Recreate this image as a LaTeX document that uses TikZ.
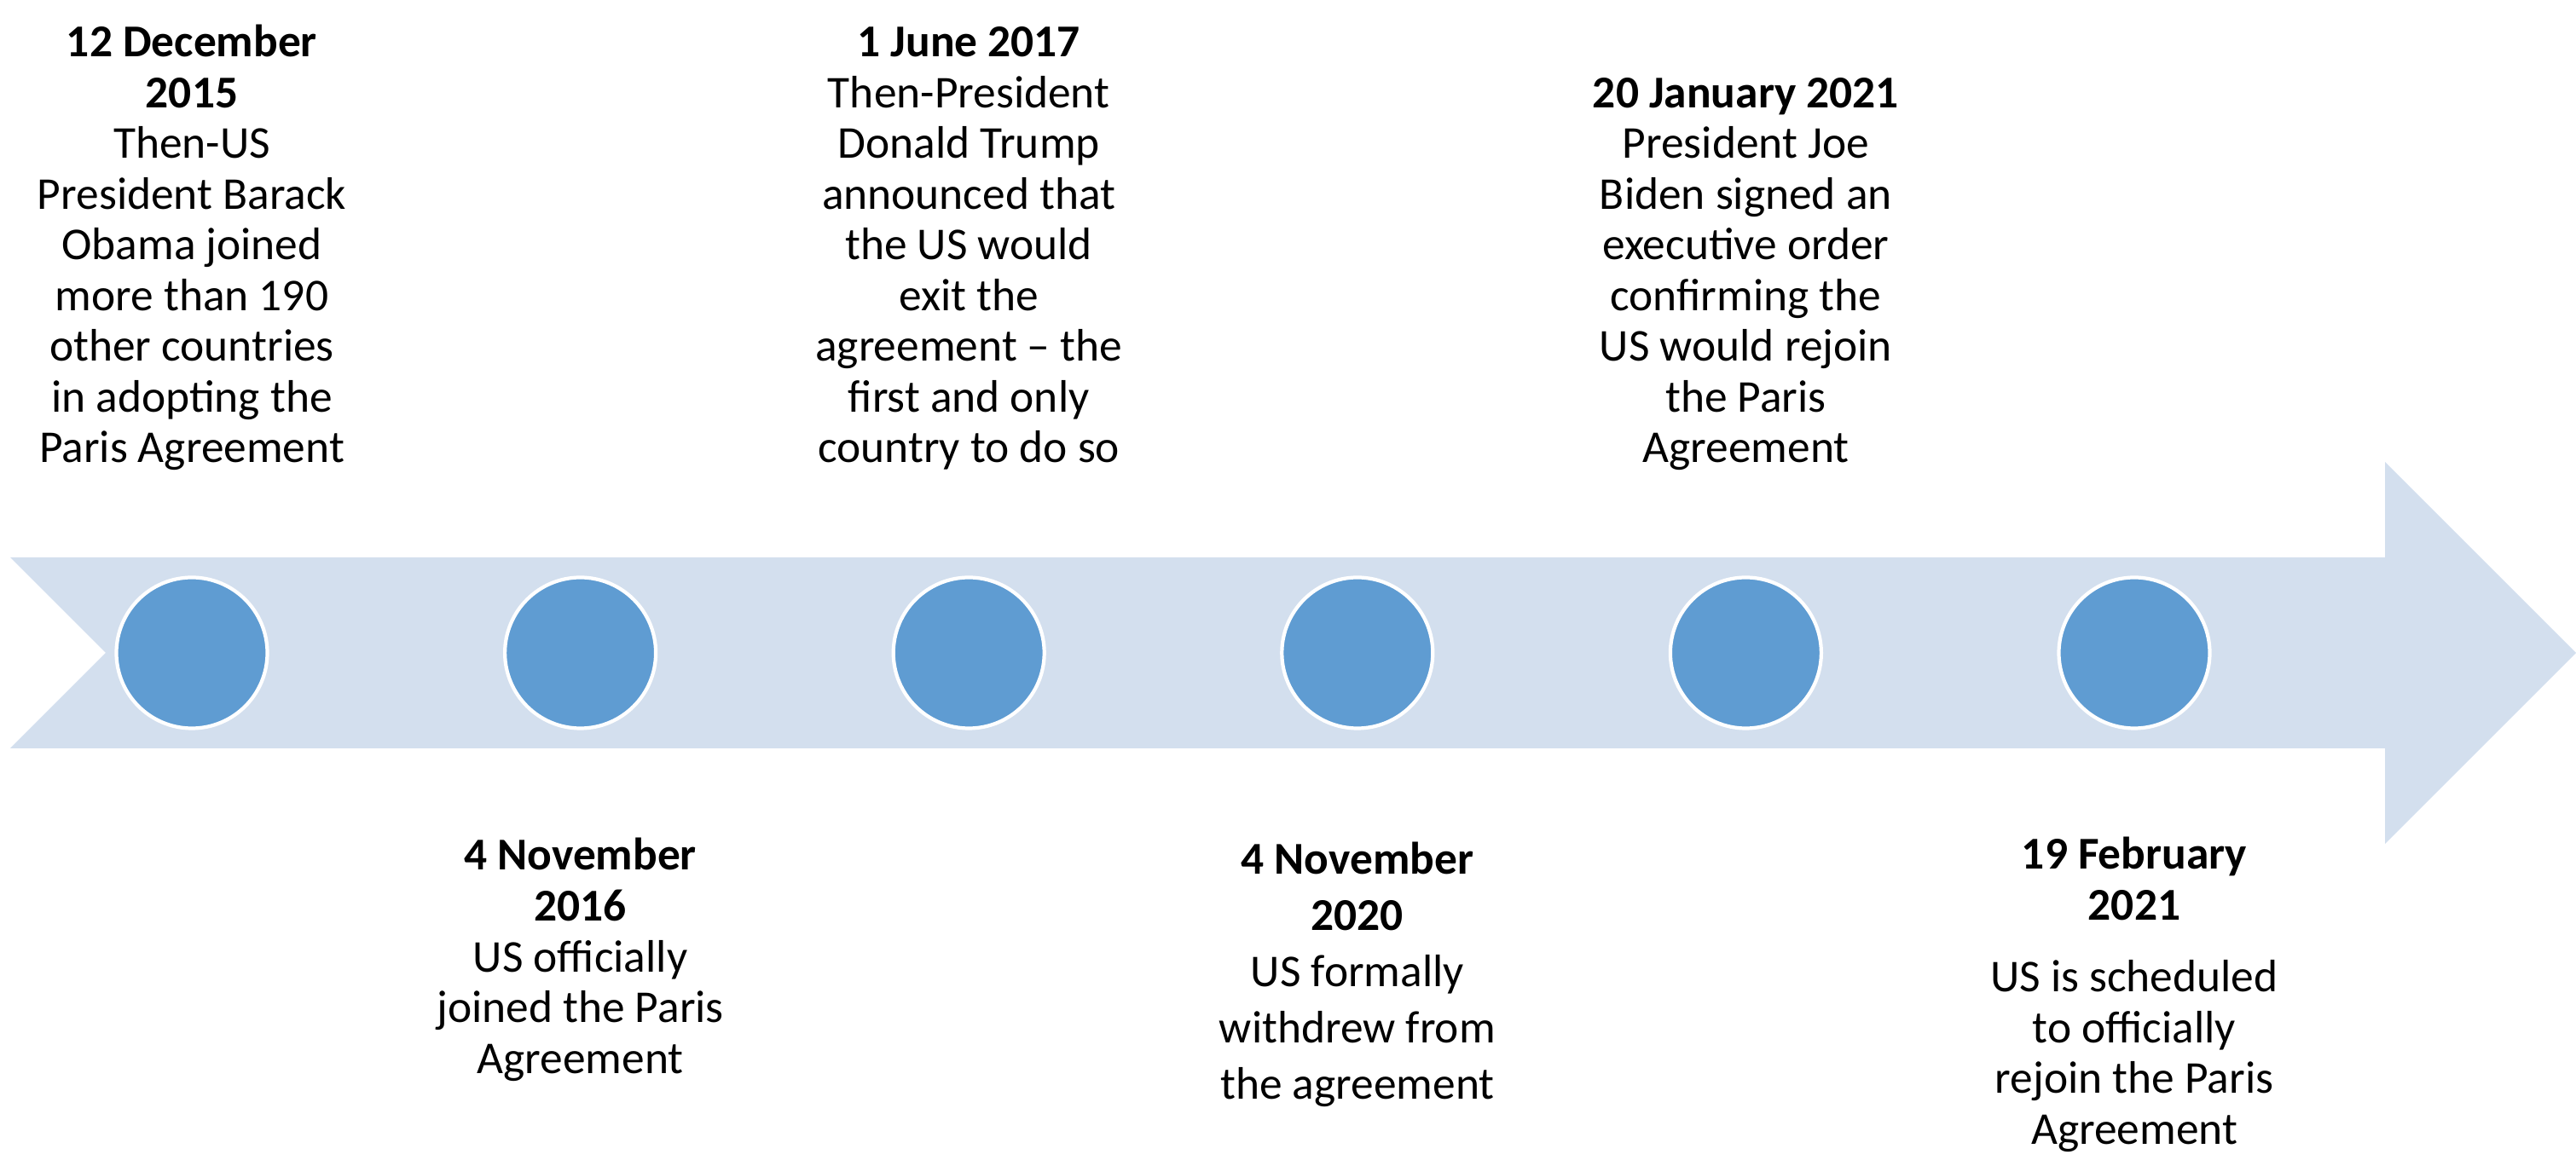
\documentclass[tikz,border=0pt]{standalone}
\usepackage{fontspec}
\setmainfont{Carlito}
\usetikzlibrary{positioning}
\definecolor{band}{RGB}{211,223,238}
\definecolor{dotblue}{RGB}{95,156,210}
\newcommand{\evfont}{\fontsize{15.2pt}{16.93pt}\selectfont}

\begin{document}
\begin{tikzpicture}[
        dot/.style={circle, fill=dotblue, draw=white, line width=1.2pt, minimum size=1.77cm, inner sep=0pt},
        evtext/.style={inner sep=0pt, anchor=base, font=\evfont},
        node distance=4.556cm, on grid]
    \useasboundingbox (0,0) rectangle (30.21,13.68);
    % timeline band
    \fill[band] (0.12,7.14) -- (27.97,7.14) -- (27.97,8.26) -- (30.21,6.02)
        -- (27.97,3.78) -- (27.97,4.90) -- (0.12,4.90) -- (1.24,6.02) -- cycle;
    % dots
    \node[dot] (c1) at (2.25,6.02) {};
    \node[dot, right=of c1] (c2) {};
    \node[dot, right=of c2] (c3) {};
    \node[dot, right=of c3] (c4) {};
    \node[dot, right=of c4] (c5) {};
    \node[dot, right=of c5] (c6) {};
    % above the band
    \node[evtext] (t1) at (c1 |- 0,8.25) {\begin{tabular}[b]{@{}c@{}}
        \textbf{12 December}\\ \textbf{2015}\\ Then-US\\ President Barack\\ Obama joined\\
        more than 190\\ other countries\\ in adopting the\\ Paris Agreement\end{tabular}};
    \node[evtext] (t3) at (c3 |- 0,8.25) {\begin{tabular}[b]{@{}c@{}}
        \textbf{1 June 2017}\\ Then-President\\ Donald Trump\\ announced that\\ the US would\\
        exit the\\ agreement \textendash{} the\\ first and only\\ country to do so\end{tabular}};
    \node[evtext] (t5) at (c5 |- 0,8.25) {\begin{tabular}[b]{@{}c@{}}
        \textbf{20 January 2021}\\ President Joe\\ Biden signed an\\ executive order\\
        confirming the\\ US would rejoin\\ the Paris\\ Agreement\end{tabular}};
    % below the band
    \node[evtext] (t2) at (c2 |- 0,3.47) {\begin{tabular}[t]{@{}c@{}}
        \textbf{4 November}\\ \textbf{2016}\\ US officially\\ joined the Paris\\ Agreement\end{tabular}};
    \node[evtext] (t4) at (c4 |- 0,3.42) {\begin{tabular}[t]{@{}c@{}}
        \textbf{4 November}\\[1.8pt] \textbf{2020}\\[1.8pt] US formally\\[1.8pt]
        withdrew from\\[1.8pt] the agreement\end{tabular}};
    \node[evtext] (t6) at (c6 |- 0,3.48) {\begin{tabular}[t]{@{}c@{}}
        \textbf{19 February}\\ \textbf{2021}\\[7.1pt] US is scheduled\\ to officially\\
        rejoin the Paris\\ Agreement\end{tabular}};
\end{tikzpicture}
\end{document}
